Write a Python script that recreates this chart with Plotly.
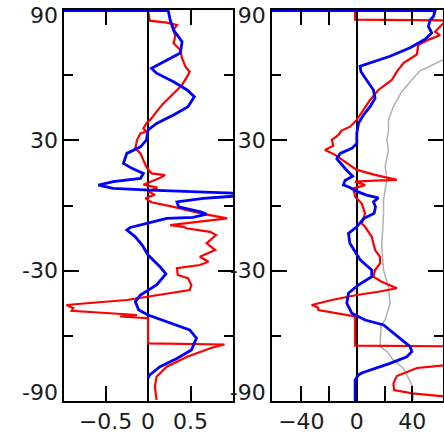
import plotly.graph_objects as go

# ---------------- data ----------------
# Left panel (x from -1 to 1), latitude -90..90
lat_blue_left = [89.7, 89.7, 89.2, 85.4, 80.8, 75.4, 70.2, 67.0, 63.2, 60.9, 57.0, 53.2, 50.1, 45.5, 41.7,
                 37.8, 34.8, 30.1, 27.0, 24.0, 19.4, 17.1, 14.8, 12.5, 11.0, 9.4, 7.9, 7.1, 6.3, 5.6, 4.4,
                 3.3, 1.7, -0.6, -2.9, -4.0, -5.5, -5.9, -7.9, -10.1, -11.3, -14.4, -18.2, -22.8, -28.2,
                 -31.5, -36.6, -41.2, -44.3, -48.1, -50.4, -54.2, -57.3, -61.1, -66.5, -70.4, -74.2, -78.0,
                 -79.5]
val_blue_left = [-1.05, 0.235, 0.24, 0.26, 0.30, 0.40, 0.38, 0.22, 0.04, 0.10, 0.30, 0.46, 0.545, 0.47, 0.30,
                 0.10, 0.0, -0.02, -0.09, -0.25, -0.29, -0.19, -0.055, -0.09, -0.41, -0.585, -0.41, 0.02,
                 0.61, 1.05, 1.05, 0.65, 0.34, 0.36, 0.62, 0.69, 0.53, 0.22, 0.02, -0.21, -0.25, -0.15,
                 -0.07, 0.0, 0.14, 0.21, 0.10, -0.09, -0.15, -0.11, 0.0, 0.26, 0.49, 0.57, 0.51, 0.34, 0.14,
                 0.02, 0.0]

lat_red_left = [89.7, 89.7, 85.1, 84.2, 83.1, 80.8, 77.8, 74.7, 71.6, 67.8, 63.9, 61.6, 59.3, 55.5, 51.6,
                47.0, 43.2, 40.1, 37.8, 35.5, 34.0, 33.2, 30.1, 26.3, 24.0, 20.9, 17.8, 14.8, 14.0, 12.5,
                10.9, 9.6, 8.2, 6.5, 5.0, 3.3, 1.5, -0.6, -3.6, -5.9, -9.0, -9.8, -10.5, -12.1, -13.6,
                -17.4, -20.5, -23.6, -25.9, -27.4, -28.9, -32.0, -33.5, -36.6, -38.9, -41.2, -43.5, -45.0,
                -45.8, -47.3, -48.5, -49.6, -50.4, -51.1, -51.9, -63.5, -64.0, -65.5, -69.6, -74.2, -78.8,
                -83.4, -89.5]
val_red_left = [-1.05, 0.0, 0.02, 0.22, 0.34, 0.30, 0.32, 0.30, 0.38, 0.40, 0.44, 0.49, 0.46, 0.40, 0.30,
                0.18, 0.10, 0.04, -0.02, -0.055, -0.02, -0.09, -0.13, -0.15, -0.09, -0.055, -0.02, 0.04,
                0.20, 0.13, 0.03, -0.055, 0.11, 0.0, 0.08, -0.03, 0.04, 0.30, 0.62, 0.93, 0.26, 0.42, 0.45,
                0.73, 0.80, 0.69, 0.79, 0.61, 0.71, 0.61, 0.34, 0.35, 0.47, 0.51, 0.49, 0.14, -0.25, -0.72,
                -0.96, -0.88, -0.90, -0.45, -0.13, -0.33, 0.0, 0.0, 0.90, 0.75, 0.46, 0.22, 0.10, 0.08,
                0.10]

# Right panel (x from -60 to 60)
lat_blue_right = [89.7, 89.7, 87.0, 85.4, 82.5, 79.4, 76.5, 72.6, 68.7, 65.6, 64.1, 61.6, 57.8, 53.2, 49.4,
                  45.5, 41.7, 37.8, 33.2, 28.6, 26.3, 24.0, 21.5, 17.9, 16.0, 13.5, 11.5, 9.5, 8.3, 6.5,
                  4.8, 3.5, 1.7, -0.6, -3.6, -6.0, -7.4, -9.8, -12.8, -17.4, -25.0, -29.7, -32.8, -36.6,
                  -40.4, -45.0, -49.6, -52.7, -55.0, -58.0, -61.1, -65.0, -67.3, -69.6, -72.7, -75.8,
                  -77.0, -78.0, -80.3, -90.0]
val_blue_right = [-65, 56.5, 55.3, 52.9, 51.7, 54.1, 49.3, 38.5, 24.0, 9.6, 2.4, 3.0, 7.2, 12.0, 13.2,
                  9.6, 4.8, 1.2, 0.0, 0.0, -3.6, -12.0, -14.4, -9.6, -7.0, -3.0, -8.5, -9.6, -5.0, 0.0,
                  7.0, 15.5, 12.0, 13.5, 12.5, 5.0, 3.0, 0.0, -6.0, -5.0, 2.4, 10.8, 10.8, 1.2, -6.0,
                  -7.2, -3.6, 6.0, 19.3, 25.3, 31.3, 38.5, 39.7, 36.1, 24.0, 9.6, 4.0, 1.2, -1.2, -1.2]

lat_red_right = [89.7, 89.7, 85.6, 85.2, 83.0, 80.0, 78.4, 76.6, 74.0, 69.5, 65.6, 61.6, 57.8, 53.2, 48.6,
                 44.0, 39.4, 36.3, 34.5, 32.5, 30.2, 27.5, 25.6, 23.3, 19.5, 16.4, 14.1, 11.8, 11.5, 11.0,
                 9.4, 7.9, 4.0, 0.9, -3.7, -8.3, -9.8, -14.4, -20.5, -23.6, -26.6, -29.7, -32.8, -35.1,
                 -38.1, -39.7, -41.2, -43.5, -45.8, -47.0, -48.1, -49.6, -51.1, -64.5, -64.8, -73.5, -74.3,
                 -74.8, -78.5, -82.0, -85.0, -86.5, -88.0, -90.0]
val_red_right = [-65, -1.2, -1.2, 65, 61, 56.5, 60, 52.9, 44.5, 43.3, 33.7, 28.9, 25.3, 15.6, 9.6,
                 4.8, 0.0, -4.8, -11.0, -13.2, -18.0, -17.0, -22.9, -15.7, -7.2, 0.0, 13.2, 28.9, 13.2,
                 -1.2, 6.0, -2.4, -1.2, 3.6, 6.0, 3.6, 6.0, 10.8, 13.2, 16.8, 16.8, 13.2, 12.0, 18.0, 28.9,
                 15.6, 0.0, -18.0, -32.5, -28.0, -27.7, -13.2, -1.2, -1.2, 65, 65, 49.0, 43.5, 28.9, 26.4,
                 27.0, 40.0, 65, 65]

lat_gray_right = [72.0, 67.0, 64.9, 62.0, 57.8, 52.4, 45.5, 39.4, 34.8, 30.1, 25.6, 17.8, 11.8, 2.5, -3.6,
                  -18.9, -29.7, -37.3, -45.0, -52.7, -55.0, -61.1, -65.0, -67.3, -70.4, -75.0, -77.3,
                  -82.6, -89.5]
val_gray_right = [70.0, 62.0, 55.3, 45.7, 39.5, 32.5, 26.4, 22.8, 23.0, 21.7, 22.8, 20.5, 21.7, 19.3, 19.3,
                  18.0, 19.3, 22.8, 24.0, 20.5, 17.5, 16.8, 16.8, 22.0, 25.3, 33.7, 35.5, 39.7, 40.9]

y_tickvals = [-90, -30, 30, 90]
y_minor = [-60, 0, 60]
y_label_pos = [-86.0, -30, 30, 87.5]
y_label_text = ["-90", "-30", "30", "90"]
xl_tickvals = [-0.5, 0, 0.5]
xl_ticktext = ["\u22120.5", "0", "0.5"]
xr_tickvals = [-40, -20, 0, 20, 40]
xr_ticktext = ["\u221240", "", "0", "", "40"]

RED = "#ff0000"
BLUE = "#0000ff"
GRAY = "#b0b0b0"

fig = go.Figure()
fig.add_trace(go.Scatter(x=val_red_left, y=lat_red_left, mode="lines",
                         line=dict(color=RED, width=2.2), xaxis="x", yaxis="y"))
fig.add_trace(go.Scatter(x=val_blue_left, y=lat_blue_left, mode="lines",
                         line=dict(color=BLUE, width=2.8), xaxis="x", yaxis="y"))
fig.add_trace(go.Scatter(x=val_gray_right, y=lat_gray_right, mode="lines",
                         line=dict(color=GRAY, width=1.5), xaxis="x2", yaxis="y2"))
fig.add_trace(go.Scatter(x=val_red_right, y=lat_red_right, mode="lines",
                         line=dict(color=RED, width=2.2), xaxis="x2", yaxis="y2"))
fig.add_trace(go.Scatter(x=val_blue_right, y=lat_blue_right, mode="lines",
                         line=dict(color=BLUE, width=2.8), xaxis="x2", yaxis="y2"))
# empty traces so the label-only overlay axes get drawn
fig.add_trace(go.Scatter(x=[None], y=[None], mode="lines", xaxis="x", yaxis="y3", hoverinfo="skip"))
fig.add_trace(go.Scatter(x=[None], y=[None], mode="lines", xaxis="x2", yaxis="y4", hoverinfo="skip"))

font = dict(family="DejaVu Sans, sans-serif", size=22, color="#1a1a1a")
YDOM = [0.0907, 0.9773]
common_y = dict(range=[-90, 90], tickvals=y_tickvals, showticklabels=False, ticks="inside",
                ticklen=15, tickwidth=2, tickcolor="black", showline=True, linewidth=2,
                linecolor="black", mirror="ticks", showgrid=False, zeroline=False,
                domain=YDOM,
                minor=dict(tickvals=y_minor, ticks="inside", ticklen=9, tickwidth=2,
                           tickcolor="black", showgrid=False))
label_y = dict(range=[-90, 90], tickvals=y_label_pos, ticktext=y_label_text, ticks="",
               showline=False, showgrid=False, zeroline=False, tickfont=font, side="left",
               domain=YDOM, ticklabeloverflow="allow", ticklabelstandoff=5)
common_x = dict(ticks="inside", ticklen=15, tickwidth=2, tickcolor="black", showline=True,
                linewidth=2, linecolor="black", mirror="ticks", showgrid=False, zeroline=True,
                zerolinecolor="black", zerolinewidth=1.5, tickfont=font,
                ticklabeloverflow="allow")

fig.update_layout(
    width=444, height=441, autosize=False,
    margin=dict(l=0, r=0, t=0, b=0, pad=0, autoexpand=False),
    paper_bgcolor="white", plot_bgcolor="white", showlegend=False,
    xaxis=dict(domain=[0.1441, 0.5248], range=[-0.99, 1.0], tickvals=xl_tickvals,
               ticktext=xl_ticktext, anchor="y", **common_x),
    yaxis=dict(anchor="x", **common_y),
    xaxis2=dict(domain=[0.612, 0.998], range=[-61.4, 62.3], tickvals=xr_tickvals,
                ticktext=xr_ticktext, anchor="y2", **common_x),
    yaxis2=dict(anchor="x2", **common_y),
    yaxis3=dict(overlaying="y", anchor="x", **label_y),
    yaxis4=dict(overlaying="y2", anchor="x2", **label_y),
)

fig.write_html("out.html")
